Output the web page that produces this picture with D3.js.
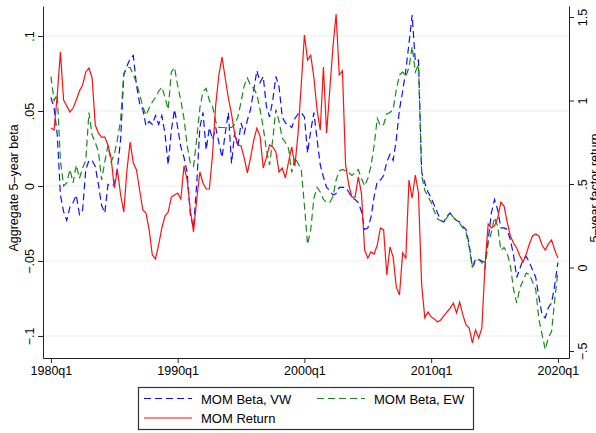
<!DOCTYPE html>
<html>
<head>
<meta charset="utf-8">
<script src="https://cdn.jsdelivr.net/npm/d3@7"></script>
<style>
    body { margin: 0; background: #fff; }
    text { font-family: "Liberation Sans", Arial, Helvetica, sans-serif; fill: #000; }
</style>
</head>
<body>
<div id="chart"></div>
<script>
// quarterly series, first value is 1980q1
var startYear = 1980;

var momBetaVW = [
    0.059, 0.052, 0.034, -0.006, -0.017, -0.023, -0.014, -0.011, -0.006, -0.019,
    -0.016, 0.011, 0.017, 0.017, 0.013, 0.001, -0.013, -0.018, 0.001, 0.000,
    0.001, 0.012, 0.031, 0.074, 0.080, 0.085, 0.087, 0.067, 0.055, 0.051,
    0.040, 0.043, 0.041, 0.047, 0.041, 0.047, 0.035, 0.014, 0.037, 0.051,
    0.039, 0.026, 0.019, 0.009, -0.019, -0.028, 0.001, 0.039, 0.049, 0.024,
    0.039, 0.031, 0.039, 0.029, 0.019, 0.035, 0.049, 0.015, 0.036, 0.026,
    0.042, 0.035, 0.044, 0.051, 0.064, 0.077, 0.069, 0.073, 0.053, 0.046,
    0.057, 0.073, 0.066, 0.046, 0.042, 0.041, 0.039, 0.045, 0.048, 0.049,
    0.046, 0.022, 0.037, 0.049, 0.031, 0.014, 0.006, -0.001, -0.003, -0.006,
    -0.005, -0.001, -0.001, -0.001, -0.004, -0.008, -0.009, -0.011, -0.017, -0.029,
    -0.028, -0.021, -0.007, 0.003, 0.004, 0.007, 0.016, 0.021, 0.017, 0.031,
    0.051, 0.063, 0.077, 0.095, 0.114, 0.083, 0.084, 0.009, 0.002, -0.004,
    -0.008, -0.013, -0.018, -0.023, -0.024, -0.020, -0.018, -0.021, -0.023, -0.024,
    -0.027, -0.029, -0.039, -0.054, -0.049, -0.049, -0.050, -0.051, -0.036, -0.018,
    -0.009, -0.016, -0.028, -0.028, -0.029, -0.036, -0.046, -0.061, -0.055, -0.049,
    -0.047, -0.051, -0.056, -0.061, -0.074, -0.086, -0.088, -0.081, -0.078, -0.066, -0.051
];

var momBetaEW = [
    0.073, 0.057, 0.061, 0.017, 0.000, 0.002, 0.011, 0.002, 0.014, 0.005,
    0.012, 0.017, 0.049, 0.034, 0.029, 0.023, 0.004, 0.016, 0.027, 0.016,
    0.021, 0.031, 0.044, 0.075, 0.079, 0.079, 0.074, 0.069, 0.061, 0.053,
    0.047, 0.052, 0.056, 0.059, 0.063, 0.066, 0.059, 0.051, 0.076, 0.079,
    0.067, 0.057, 0.045, 0.027, 0.015, 0.013, 0.031, 0.052, 0.063, 0.065,
    0.057, 0.053, 0.043, 0.039, 0.039, 0.039, 0.039, 0.039, 0.041, 0.046,
    0.056, 0.067, 0.072, 0.067, 0.065, 0.061, 0.051, 0.039, 0.024, 0.014,
    0.031, 0.051, 0.043, 0.032, 0.029, 0.025, 0.009, 0.019, 0.015, 0.011,
    -0.013, -0.039, -0.029, -0.008, -0.001, -0.004, -0.009, -0.011, -0.011, -0.007,
    0.004, 0.010, 0.011, 0.010, 0.009, 0.007, 0.009, 0.011, 0.005, 0.000,
    0.005, 0.013, 0.027, 0.045, 0.040, 0.041, 0.048, 0.049, 0.051, 0.064,
    0.074, 0.076, 0.073, 0.079, 0.093, 0.076, 0.081, 0.007, -0.003, -0.007,
    -0.011, -0.017, -0.022, -0.023, -0.024, -0.021, -0.018, -0.021, -0.023, -0.025,
    -0.028, -0.031, -0.041, -0.054, -0.051, -0.049, -0.051, -0.055, -0.038, -0.031,
    -0.021, -0.027, -0.043, -0.041, -0.045, -0.053, -0.069, -0.078, -0.068, -0.063,
    -0.058, -0.059, -0.064, -0.069, -0.089, -0.099, -0.109, -0.101, -0.097, -0.076, -0.057
];

var momReturn = [
    0.835, 0.823, 1.033, 1.290, 1.003, 0.967, 0.931, 0.955, 1.003, 1.057,
    1.093, 1.171, 1.195, 1.135, 0.853, 0.805, 0.781, 0.781, 0.734, 0.656,
    0.476, 0.584, 0.434, 0.332, 0.584, 0.751, 0.626, 0.584, 0.464, 0.344,
    0.326, 0.225, 0.075, 0.051, 0.135, 0.237, 0.308, 0.332, 0.422, 0.434,
    0.446, 0.410, 0.608, 0.524, 0.344, 0.213, 0.404, 0.572, 0.506, 0.470,
    0.470, 0.674, 0.973, 1.153, 1.260, 1.135, 1.015, 0.919, 0.799, 0.734,
    0.728, 0.656, 0.566, 0.656, 0.763, 0.835, 0.787, 0.596, 0.656, 0.734,
    0.722, 0.692, 0.572, 0.596, 0.536, 0.632, 0.722, 0.608, 0.805, 1.093,
    1.392, 1.243, 1.272, 1.135, 0.943, 0.823, 1.201, 0.805, 1.063, 1.320,
    1.518, 1.153, 1.177, 0.614, 0.494, 0.422, 0.422, 0.542, 0.446, 0.105,
    0.057, 0.093, 0.081, 0.135, 0.237, 0.225, -0.045, 0.123, 0.063, -0.117,
    -0.165, 0.087, 0.057, 0.524, 0.416, 0.554, 0.446, -0.105, -0.302, -0.266,
    -0.296, -0.308, -0.326, -0.314, -0.290, -0.266, -0.243, -0.213, -0.272, -0.207,
    -0.284, -0.344, -0.362, -0.452, -0.374, -0.422, -0.362, 0.015, 0.260, 0.237,
    0.249, 0.296, 0.392, 0.368, 0.272, 0.189, 0.147, 0.117, 0.069, 0.033,
    0.081, 0.141, 0.189, 0.201, 0.189, 0.135, 0.105, 0.141, 0.165, 0.105, 0.057
];

var xTickLabels = ["1980q1", "1990q1", "2000q1", "2010q1", "2020q1"];
var leftTicks = [-0.1, -0.05, 0, 0.05, 0.1];
var rightTicks = [-0.5, 0, 0.5, 1, 1.5];
var seriesNames = ["MOM Beta, VW", "MOM Beta, EW", "MOM Return"];

// dimensions
var W = 596, H = 433;
var margin = {top: 6, right: 27, bottom: 75, left: 43},
    width = W - margin.left - margin.right,
    height = H - margin.top - margin.bottom;

// quarter label -> index from 1980q1
function qIndex(lbl) {
    return (+lbl.slice(0, 4) - startYear) * 4 + (+lbl.slice(5) - 1);
}

// stata style numbers: .05, −.1
function stataFmt(d) {
    if (d === 0) return "0";
    var s = String(Math.abs(d)).replace(/^0\./, ".");
    return (d < 0 ? "\u2212" : "") + s;
}

var svg = d3.select("#chart")
    .append("svg")
    .attr("width", W)
    .attr("height", H)
    .style("background", "#fff");

var g = svg.append("g")
    .attr("transform", "translate(" + margin.left + "," + margin.top + ")");

// scales
var x = d3.scaleLinear()
    .domain([-2.5, 163.5])
    .range([0, width]);

var yL = d3.scaleLinear()
    .domain([-0.1147, 0.12])
    .range([height, 0]);

var yR = d3.scaleLinear()
    .domain([-0.542, 1.566])
    .range([height, 0]);

// grid lines on left axis ticks
g.selectAll(".grid")
    .data(leftTicks)
    .enter()
    .append("line")
    .attr("x1", 0)
    .attr("x2", width)
    .attr("y1", function (d) { return yL(d); })
    .attr("y2", function (d) { return yL(d); })
    .attr("stroke", "#e6eef1")
    .attr("stroke-width", 1);

// X axis
var xAxis = g.append("g")
    .attr("transform", "translate(0," + height + ")")
    .call(d3.axisBottom(x)
        .tickValues(xTickLabels.map(qIndex))
        .tickFormat(function (d, i) { return xTickLabels[i]; })
        .tickSize(5)
        .tickSizeOuter(0));
xAxis.selectAll("text").style("font-size", "12.5px");

// left Y axis
var leftAxis = g.append("g")
    .call(d3.axisLeft(yL)
        .tickValues(leftTicks)
        .tickFormat(stataFmt)
        .tickSize(5)
        .tickSizeOuter(0));
leftAxis.selectAll("text")
    .attr("transform", "rotate(-90)")
    .attr("x", 0)
    .attr("y", -9)
    .attr("dy", 0)
    .style("text-anchor", "middle")
    .style("font-size", "12.5px");

// right Y axis
var rightAxis = g.append("g")
    .attr("transform", "translate(" + width + ",0)")
    .call(d3.axisRight(yR)
        .tickValues(rightTicks)
        .tickFormat(stataFmt)
        .tickSize(5)
        .tickSizeOuter(0));
rightAxis.selectAll("text")
    .attr("transform", "rotate(-90)")
    .attr("x", 0)
    .attr("y", 18)
    .attr("dy", 0)
    .style("text-anchor", "middle")
    .style("font-size", "12.5px");

g.selectAll(".domain, .tick line").attr("stroke", "#222").attr("stroke-width", 1);

// axis titles
g.append("text")
    .attr("transform", "translate(" + (-25) + "," + (height / 2 + 6) + ") rotate(-90)")
    .style("text-anchor", "middle")
    .style("font-size", "12.5px")
    .text("Aggregate 5\u2013year beta");

g.append("text")
    .attr("transform", "translate(" + (width + 29.5) + "," + (height / 2 + 6) + ") rotate(-90)")
    .style("text-anchor", "middle")
    .style("font-size", "12.5px")
    .text("5\u2013year factor return");

// Lines
var lineL = d3.line()
    .x(function (d, i) { return x(i); })
    .y(function (d) { return yL(d); });

var lineR = d3.line()
    .x(function (d, i) { return x(i); })
    .y(function (d) { return yR(d); });

var series = [
    {data: momBetaVW, line: lineL, color: "#1010ff", dash: "7,4"},
    {data: momBetaEW, line: lineL, color: "#1a8a1a", dash: "7,4"},
    {data: momReturn, line: lineR, color: "#ff1010", dash: null}
];

series.forEach(function (s) {
    g.append("path")
        .datum(s.data)
        .attr("d", s.line)
        .attr("fill", "none")
        .attr("stroke", s.color)
        .attr("stroke-width", 1.2)
        .attr("stroke-dasharray", s.dash);
});

// Legend
var legend = svg.append("g");

legend.append("rect")
    .attr("x", 138.5)
    .attr("y", 387.5)
    .attr("width", 335)
    .attr("height", 42)
    .attr("fill", "#fff")
    .attr("stroke", "#333")
    .attr("stroke-width", 1.2);

var legendPos = [
    {lx: 144, ly: 398.5},
    {lx: 317, ly: 398.5},
    {lx: 144, ly: 418}
];

series.forEach(function (s, i) {
    var p = legendPos[i];
    legend.append("line")
        .attr("x1", p.lx)
        .attr("x2", p.lx + 48)
        .attr("y1", p.ly)
        .attr("y2", p.ly)
        .attr("stroke", s.color)
        .attr("stroke-width", 1.2)
        .attr("stroke-dasharray", s.dash);
    legend.append("text")
        .attr("x", p.lx + 57)
        .attr("y", p.ly + 5)
        .style("font-size", "13px")
        .text(seriesNames[i]);
});
</script>
</body>
</html>
